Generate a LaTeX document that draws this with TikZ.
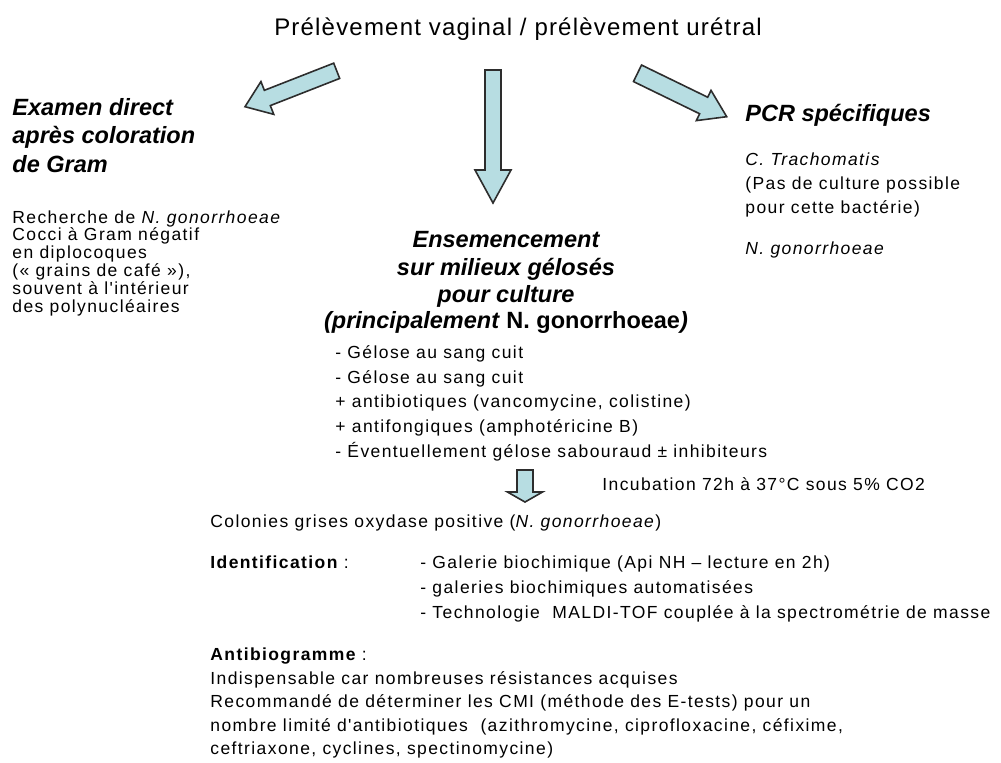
\documentclass[tikz,border=0pt]{standalone}
\usepackage{fontspec}
\setmainfont{Liberation Sans}
\newfontfamily\bodyfont{Liberation Sans}[LetterSpace=8]
\newfontfamily\titlefont{Liberation Sans}[LetterSpace=5]
\usepackage{tikz}
\usetikzlibrary{calc}
\definecolor{arrowblue}{RGB}{183,221,226}
\definecolor{arrowline}{RGB}{45,45,45}
\tikzstyle{arrowbox}=[fill=arrowblue, draw=arrowline, line width=0.8pt, line join=miter]
\tikzstyle{titletext}=[anchor=base, inner sep=0pt, font=\titlefont\fontsize{12}{14}\selectfont]
\tikzstyle{headtext}=[anchor=base west, inner sep=0pt, font=\fontsize{11.75}{14}\selectfont\bfseries\itshape]
\tikzstyle{midhead}=[headtext, anchor=base]
\tikzstyle{bodytext}=[anchor=base west, inner sep=0pt, font=\bodyfont\fontsize{8.75}{10}\selectfont]
\newcommand{\fatArrow}[5]{
	\coordinate (ZZh) at ($(#2)!#5!(#1)$);
	\draw[arrowbox] ($(#1)!#3!90:(#2)$) -- ($(ZZh)!#3!90:(#2)$) -- ($(ZZh)!#4!90:(#2)$) -- (#2) -- ($(ZZh)!#4!-90:(#2)$) -- ($(ZZh)!#3!-90:(#2)$) -- ($(#1)!#3!-90:(#2)$) -- cycle;
}

\begin{document}
\begin{tikzpicture}[x=0.5pt,y=-0.5pt]
	\useasboundingbox (0,0) rectangle (1001,762);
	\node[titletext] (prelev) at (518,35) {Prélèvement vaginal / prélèvement urétral};
	\coordinate (leftTail) at (336.7,70.8);
	\coordinate (leftTip) at (245,106.7);
	\coordinate (midTail) at (493,70);
	\coordinate (midTip) at (493,203);
	\coordinate (rightTail) at (637.5,73.3);
	\coordinate (rightTip) at (726.7,116.7);
	\coordinate (incubTail) at (525,470);
	\coordinate (incubTip) at (525,502);
	\fatArrow{leftTail}{leftTip}{4.1pt}{8.8pt}{12pt}
	\fatArrow{midTail}{midTip}{4pt}{9pt}{16.5pt}
	\fatArrow{rightTail}{rightTip}{4.6pt}{8.4pt}{12.8pt}
	\fatArrow{incubTail}{incubTip}{4pt}{8.75pt}{5pt}
	\node[headtext] (gramHead1) at (12,115) {Examen direct};
	\node[headtext] (gramHead2) at (12,143.5) {après coloration};
	\node[headtext] (gramHead3) at (12,172) {de Gram};
	\node[bodytext] (gram1) at (12,223) {Recherche de \textit{N. gonorrhoeae}};
	\node[bodytext] (gram2) at (12,240.8) {Cocci à Gram négatif};
	\node[bodytext] (gram3) at (12,258.6) {en diplocoques};
	\node[bodytext] (gram4) at (12,276.4) {(« grains de café »),};
	\node[bodytext] (gram5) at (12,294.2) {souvent à l'intérieur};
	\node[bodytext] (gram6) at (12,312) {des polynucléaires};
	\node[headtext] (pcrHead) at (745,121) {PCR spécifiques};
	\node[bodytext] (pcr1) at (745,165) {\textit{C. Trachomatis}};
	\node[bodytext] (pcr2) at (745,189) {(Pas de culture possible};
	\node[bodytext] (pcr3) at (745,213) {pour cette bactérie)};
	\node[bodytext] (pcr4) at (745,254) {\textit{N. gonorrhoeae}};
	\node[midhead] (cultHead1) at (506,247) {Ensemencement};
	\node[midhead] (cultHead2) at (506,275) {sur milieux gélosés};
	\node[midhead] (cultHead3) at (506,302) {pour culture};
	\node[midhead] (cultHead4) at (506,328) {(principalement \textup{N. gonorrhoeae})};
	\node[bodytext] (milieu1) at (335,358) {- Gélose au sang cuit};
	\node[bodytext] (milieu2) at (335,383) {- Gélose au sang cuit};
	\node[bodytext] (milieu3) at (335,407) {+ antibiotiques (vancomycine, colistine)};
	\node[bodytext] (milieu4) at (335,432) {+ antifongiques (amphotéricine B)};
	\node[bodytext] (milieu5) at (335,457) {- Éventuellement gélose sabouraud ± inhibiteurs};
	\node[bodytext] (incub) at (602,490) {Incubation 72h à 37°C sous 5\% CO2};
	\node[bodytext] (colonies) at (210,527) {Colonies grises oxydase positive (\textit{N. gonorrhoeae})};
	\node[bodytext] (ident) at (210,568) {\bfseries Identification \mdseries:};
	\node[bodytext] (ident1) at (420,568) {- Galerie biochimique (Api NH – lecture en 2h)};
	\node[bodytext] (ident2) at (420,593) {- galeries biochimiques automatisées};
	\node[bodytext] (ident3) at (420,618) {- Technologie\ \ MALDI-TOF couplée à la spectrométrie de masse};
	\node[bodytext] (antibio) at (210,660) {\bfseries Antibiogramme \mdseries:};
	\node[bodytext] (antibio1) at (210,684) {Indispensable car nombreuses résistances acquises};
	\node[bodytext] (antibio2) at (210,707.5) {Recommandé de déterminer les CMI (méthode des E-tests) pour un};
	\node[bodytext] (antibio3) at (210,731) {nombre limité d'antibiotiques\ \ (azithromycine, ciprofloxacine, céfixime,};
	\node[bodytext] (antibio4) at (210,754) {ceftriaxone, cyclines, spectinomycine)};
\end{tikzpicture}
\end{document}
